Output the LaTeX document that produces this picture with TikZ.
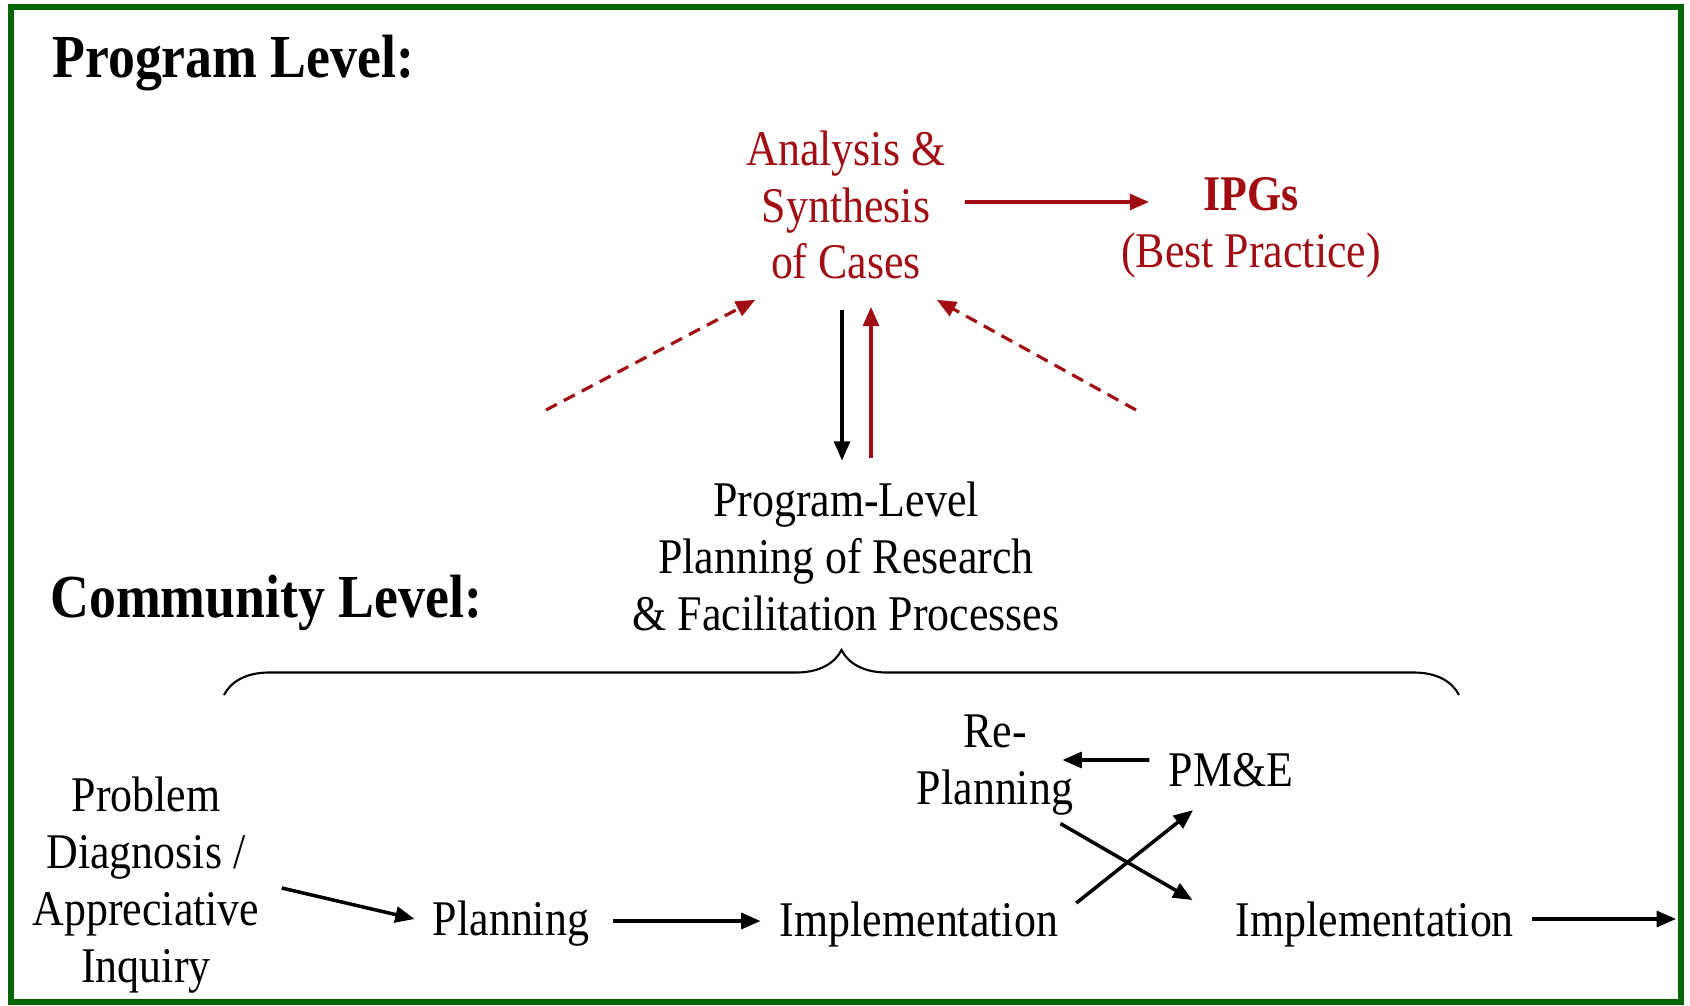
\documentclass[tikz,border=0pt]{standalone}
\usepackage{fontspec}
\setmainfont{Liberation Serif}[FakeStretch=0.88]
\usepackage{xcolor}
\usetikzlibrary{positioning,arrows.meta,decorations.pathreplacing}
\definecolor{caseRed}{RGB}{160,14,20}
\definecolor{frameGreen}{RGB}{0,102,0}

\begin{document}
\begin{tikzpicture}[x=0.02cm,y=-0.02cm,node distance=4cm,on grid,
    txt/.style={align=center,inner sep=0pt,font=\fontsize{28.4}{32.4}\selectfont},
    lvl/.style={anchor=base west,inner sep=0pt,font=\fontsize{34.8}{40}\selectfont\bfseries},
    arr/.style={-{Triangle[length=11pt,width=9pt]},line width=2pt},
    redarr/.style={arr,color=caseRed},
    dasharr/.style={redarr,line width=1.8pt,dash pattern=on 7pt off 4.5pt}]

   \useasboundingbox (0,0) rectangle (1690,1006);
   \draw[frameGreen,line width=0.13cm] (11,7) rectangle (1681,1002);

   % program level
   \node[lvl] (plev) at (52,78) {Program Level:};
   \node[txt,text=caseRed] (ana) at (846,205) {Analysis \&\\Synthesis\\of Cases};
   \node[txt,text=caseRed,font=\fontsize{28.4}{32.4}\selectfont\bfseries] (ipg) at (1251,194) {IPGs};
   \node[txt,text=caseRed] (bp) at (1251,256) {(Best Practice)};
   \node[txt] (progl) [below=7.03cm of ana] {Program-Level\\Planning of Research\\\& Facilitation Processes};
   \coordinate (dl) at (546,410);
   \coordinate (dr) at (1136,410);

   % community level
   \node[lvl] (clev) at (50,617) {Community Level:};
   \node[txt] (prob) at (146,885) {Problem\\Diagnosis /\\Appreciative\\Inquiry};
   \node[txt] (plan) at (511,924) {Planning};
   \node[txt] (impl1) [right=8.16cm of plan] {Implementation};
   \node[txt] (impl2) [right=9.12cm of impl1] {Implementation};
   \node[txt] (replan) at (995,765) {Re-\\Planning};
   \node[txt] (pme) at (1231,770) {PM\&E};
   \coordinate (out) at (1676,919);

   \draw[line width=1.2pt,decorate,decoration={brace,amplitude=0.9cm}] (224,695) -- (1459,695);

   \path[redarr]
    ([xshift=0.38cm,yshift=0.06cm]ana.east) edge ([xshift=-1.08cm,yshift=-0.16cm]ipg.west)
    ([xshift=0.5cm,yshift=0.48cm]progl.north) edge ([xshift=0.5cm,yshift=-0.54cm]ana.south);
   \path[dasharr]
    (dl) edge ([xshift=0.18cm,yshift=-0.4cm]ana.south west)
    (dr) edge ([xshift=-0.18cm,yshift=-0.4cm]ana.south east);
   \path[arr]
    ([xshift=-0.08cm,yshift=-0.6cm]ana.south) edge ([xshift=-0.08cm,yshift=0.42cm]progl.north)
    ([xshift=0.44cm,yshift=-0.06cm]prob.east) edge ([xshift=-0.36cm,yshift=0.1cm]plan.west)
    ([xshift=0.48cm,yshift=0.06cm]plan.east) edge ([xshift=-0.38cm,yshift=0.06cm]impl1.west)
    ([xshift=0.36cm,yshift=0.42cm]impl1.east) edge ([xshift=-0.76cm,yshift=-0.46cm]pme.south)
    ([xshift=-0.38cm,yshift=0.2cm]pme.west) edge ([xshift=-0.22cm,yshift=0.1cm]replan.east)
    ([xshift=-0.26cm,yshift=-0.16cm]replan.south east) edge ([xshift=-0.86cm,yshift=0.02cm]impl2.north west)
    ([xshift=0.36cm,yshift=0.1cm]impl2.east) edge (out);

\end{tikzpicture}
\end{document}
